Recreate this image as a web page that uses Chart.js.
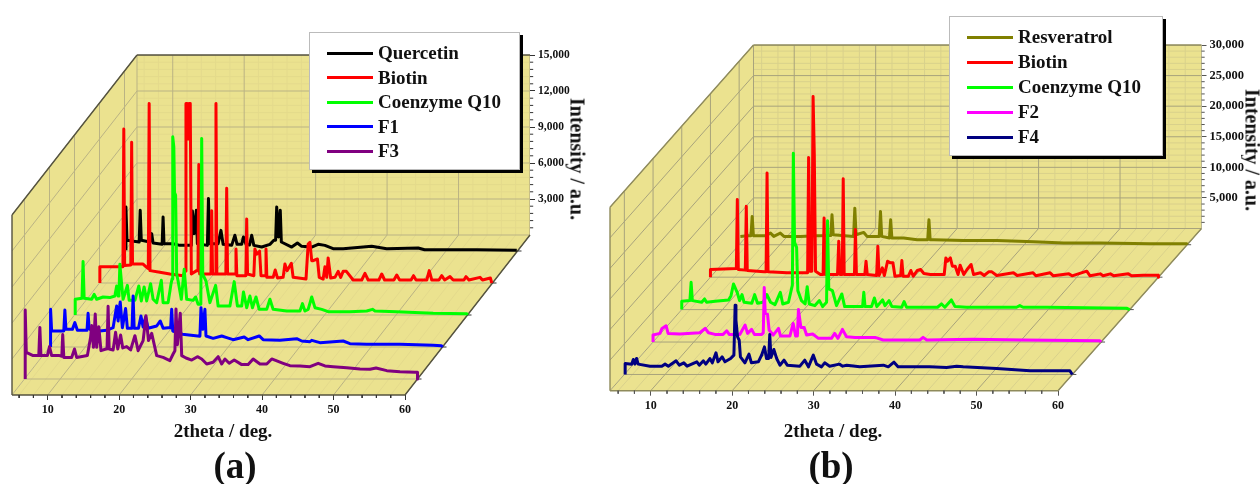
<!DOCTYPE html>
<html>
<head>
<meta charset="utf-8">
<title>XRD patterns</title>
<script src="https://cdn.jsdelivr.net/npm/chart.js@4/dist/chart.umd.min.js"></script>
<style>
  html,body { margin:0; padding:0; background:#fff; }
  #page { position:relative; width:1260px; height:484px; overflow:hidden; font-family:"Liberation Serif",serif; font-weight:bold; color:#111; filter:blur(0.45px); }
  canvas { position:absolute; top:0; }
  .lbl { position:absolute; white-space:nowrap; transform:translate(-50%,-50%); }
  .legend { position:absolute; background:#fff; border:1px solid #bbb; box-sizing:border-box; box-shadow:3px 3px 0 #000; font-size:19px; }
  .legend div { position:absolute; white-space:nowrap; line-height:20px; }
  .legend i { position:absolute; height:3px; }
</style>
</head>
<body>
<div id="page">
  <canvas id="chartA" width="600" height="484" style="left:0"></canvas>
  <canvas id="chartB" width="660" height="484" style="left:600px"></canvas>
</div>
<script>
// [2theta, intensity], panel (a)
const quercetinA = [[5.2,55],[5.2,3670],[5.35,890],[7.05,750],[7.2,3390],[7.35,890],[8.55,750],[8.8,1450],[9,670],[10.27,555],[10.4,2835],[10.53,610],[11.8,610],[12.75,470],[14.35,470],[14.5,3340],[14.75,1450],[15.05,3390],[15.2,610],[16.6,470],[16.75,4365],[16.9,610],[18.1,610],[18.5,1720],[18.8,555],[20,470],[20.45,1310],[20.75,555],[21.4,555],[21.65,1170],[22,555],[22.5,500],[22.8,1310],[23.1,470],[24.2,330],[25.35,555],[25.9,890],[26.15,890],[26.3,3670],[26.55,1170],[26.8,3390],[26.95,750],[28.4,330],[29.2,670],[29.8,390],[31.2,330],[32.1,555],[33.05,470],[34.2,195],[35.6,195],[39.6,390],[41.7,195],[46.1,250],[47,110],[54.3,110],[59.9,55]];
const biotinA = [[5.05,0],[5.05,1360],[7.85,1360],[8.28,1360],[8.4,12840],[8.52,1450],[9.38,1500],[9.5,11730],[9.62,1580],[11.1,1580],[11.6,1310],[11.83,1200],[11.95,14960],[12.07,1030],[13.45,890],[14.85,750],[16.7,610],[17,1000],[17.1,14960],[17.25,14960],[17.4,12000],[17.55,14950],[17.7,14950],[17.85,750],[18.6,1030],[18.78,1030],[18.9,9870],[19.02,750],[20.2,750],[20.6,750],[20.7,6030],[20.82,750],[21.18,750],[21.3,14960],[21.42,750],[22.68,750],[22.8,7900],[22.92,750],[23.98,750],[24.1,2835],[24.22,610],[25.48,610],[25.6,5340],[25.72,750],[26.6,610],[26.75,2835],[27,2400],[27.4,2650],[27.6,610],[28.18,610],[28.3,2835],[28.42,470],[29.3,470],[29.6,1080],[29.9,420],[30.7,470],[30.95,1580],[31.25,1030],[31.85,1640],[32.1,470],[33.9,330],[34.2,3250],[34.45,3390],[34.7,1860],[34.9,1860],[35.5,2000],[35.75,470],[36.3,330],[36.55,1360],[36.8,470],[37,2085],[37.35,420],[37.95,470],[38.4,970],[38.75,470],[39.1,970],[39.55,970],[40.5,250],[41.7,250],[42.15,810],[42.6,250],[44.1,250],[44.5,750],[44.9,250],[46.2,250],[46.6,670],[47,250],[48.6,250],[48.95,610],[49.3,250],[50.8,250],[51.15,1030],[51.5,250],[52.5,250],[52.9,610],[53.3,250],[54.05,530],[54.5,250],[56,250],[56.3,530],[56.7,250],[58.25,470],[58.6,250],[59.7,420],[59.9,0]];
const coenzymeA = [[5.1,0],[5.1,1310],[6.05,1390],[6.2,4450],[6.35,1390],[7.4,1310],[7.75,1720],[8.1,1310],[9,1500],[9.95,1450],[10.65,1580],[10.9,2420],[11.1,1580],[11.22,1700],[11.35,4230],[11.6,2560],[11.8,1310],[12.4,2470],[12.65,1220],[13.45,1220],[14,2420],[14.35,1170],[14.75,2340],[15.1,1170],[15.65,2610],[16,1310],[16.5,1030],[17.15,2890],[17.4,1030],[18.1,1030],[18.5,2560],[18.65,3000],[18.75,14845],[18.9,14000],[19,10200],[19.15,10000],[19.3,3400],[19.5,2835],[19.95,1310],[20.35,3810],[20.7,1310],[21.6,1220],[21.95,1500],[22.3,890],[22.68,890],[22.8,14700],[22.95,3390],[23.4,2835],[23.95,1030],[24.75,2470],[25.1,750],[26.75,750],[27.35,2780],[27.8,750],[28.4,750],[28.65,1920],[29.1,610],[29.55,1580],[29.9,610],[30.4,1500],[30.85,470],[31.9,470],[32.35,1310],[32.8,470],[34.7,330],[36.55,330],[36.9,945],[37.25,330],[37.7,470],[38.2,1500],[38.65,610],[39.6,470],[40.5,280],[43.55,280],[45.9,330],[46.7,470],[47.05,330],[50.05,280],[55.2,140],[59.9,110],[60,0]];
const f1A = [[5.15,0],[5.15,3140],[5.3,1330],[7,1330],[7.15,3085],[7.3,1470],[8.2,1470],[8.55,2030],[8.9,1390],[10.25,1390],[10.4,2810],[10.55,1560],[11,1280],[13,1390],[13.9,1610],[14.4,3420],[14.6,2170],[14.9,3750],[15.2,1610],[15.65,3200],[15.9,1560],[16.55,1560],[16.7,4250],[16.85,1560],[17.45,1560],[17.8,2585],[18.1,1670],[18.45,2500],[18.8,1560],[20,1750],[20.5,2170],[20.9,1560],[21.6,1610],[21.95,1600],[22.1,3140],[22.25,1330],[23.6,1060],[26.05,900],[26.2,3280],[26.45,1470],[26.75,3140],[26.9,920],[27.9,720],[29.1,920],[29.8,780],[30.7,610],[32.25,830],[32.8,610],[34.35,920],[34.9,610],[37.25,555],[39.6,695],[40.3,500],[41.45,445],[41.7,555],[42.85,360],[46.1,500],[47.05,280],[49.4,220],[54.05,220],[58.7,140],[59.85,110],[60,0]];
const f3A = [[5.1,0],[5.1,5750],[5.25,2220],[6.2,1950],[7,1950],[7.15,4300],[7.3,1950],[8.2,1950],[8.5,2700],[8.8,1950],[9.9,1950],[10.22,1900],[10.35,3700],[10.5,1800],[11.6,1800],[12,2500],[12.3,1800],[13.8,1950],[14.25,3470],[14.4,4450],[14.65,2640],[14.9,5420],[15.1,2640],[15.4,4360],[15.7,2360],[16.4,2500],[16.55,2500],[16.7,6060],[16.85,2500],[17.4,2420],[17.75,3890],[18.05,2500],[18.45,3670],[18.75,2590],[19.3,2700],[19.85,2420],[20.45,3610],[20.9,2360],[21.6,3200],[22,5280],[22.35,3200],[22.8,3810],[23.5,1950],[24.4,1800],[25.35,1530],[25.8,2085],[26.05,2360],[26.2,5840],[26.4,2860],[26.8,5480],[27,1950],[27.6,1750],[28.4,1580],[29.2,1860],[29.8,1670],[30.5,1250],[31.4,1390],[32.1,1860],[32.6,1250],[33.05,1670],[33.65,1310],[34.35,1580],[35.4,1200],[36.3,1200],[37,1670],[37.95,1250],[38.9,1250],[39.6,1670],[41.2,1310],[42.15,1110],[43.55,1085],[44.95,1030],[46.1,1310],[47.05,1085],[48.2,1030],[50.1,945],[51.95,835],[53.35,805],[54.2,915],[55.7,695],[57.55,610],[59.65,555],[60,555],[60,0]];

// panel (b)
const resveratrolB = [[5.15,1360],[6,1470],[6.45,1470],[6.6,4620],[6.75,1470],[8.2,1470],[8.85,1900],[9.25,1360],[10.05,1900],[10.5,1360],[12.5,1360],[14.55,1470],[16.25,1500],[16.4,4900],[16.55,1630],[19.05,1360],[19.2,5980],[19.35,1630],[20.3,2010],[20.7,1360],[22.2,1360],[22.35,5440],[22.5,1360],[23.45,1090],[23.6,4080],[23.75,1090],[25.2,1090],[26.85,815],[28.15,815],[28.3,4080],[28.45,815],[28.9,815],[32.55,700],[36.65,700],[41.15,490],[44.85,270],[49.35,270],[55.45,160],[59.95,160],[60,0]];
const biotinB = [[5,0],[5,1250],[8.18,1410],[8.3,12680],[8.42,1250],[9.28,1150],[9.4,11590],[9.52,1090],[11.6,870],[11.83,870],[11.95,17030],[12.07,870],[14.4,710],[16.93,710],[17.05,19580],[17.2,980],[17.45,980],[17.6,29540],[17.75,20000],[17.9,980],[18.5,435],[18.83,435],[18.95,9680],[19.07,435],[20.6,435],[20.75,5880],[20.9,435],[21.18,435],[21.3,16100],[21.42,435],[22.68,435],[22.8,7780],[22.92,435],[23.95,435],[24.1,2610],[24.25,435],[25.4,270],[25.55,5060],[25.7,270],[26.1,1520],[26.35,270],[26.75,2610],[27.1,2340],[27.4,2340],[27.65,160],[28.35,270],[28.5,2720],[28.65,160],[29.3,160],[29.6,1090],[29.9,160],[30.4,1090],[30.8,1250],[31.2,600],[32,435],[33.7,435],[33.9,3150],[34.1,2600],[34.45,3150],[34.7,1800],[35.05,1800],[35.4,435],[35.65,1960],[36.1,435],[36.5,1250],[37,2070],[37.3,435],[38.15,710],[38.6,270],[39.15,870],[39.55,870],[40.15,270],[42.2,710],[42.65,270],[44.6,710],[44.95,220],[46.7,710],[47.1,220],[49,540],[49.4,220],[51.2,980],[51.6,220],[52.85,540],[53.2,220],[54.1,540],[54.5,220],[56.3,540],[56.7,220],[58.15,320],[59.95,320],[60,0]];
const coenzymeB = [[5,0],[5,1360],[6,1470],[6.15,4460],[6.3,1470],[7.45,1200],[7.8,1740],[8.05,1200],[9.1,1360],[10.75,1580],[11.05,2280],[11.35,4190],[11.8,2830],[12.1,1470],[12.4,2450],[12.65,1200],[13.6,1030],[13.95,2450],[14.3,1030],[15,1200],[15.45,2450],[15.9,1200],[16.45,820],[17.1,2830],[17.4,925],[18.1,1200],[18.58,4000],[18.7,25570],[18.85,11000],[19.1,10170],[19.25,3100],[19.7,1470],[20.15,925],[20.4,3750],[20.65,925],[21.35,650],[21.9,1470],[22.3,490],[22.78,1200],[22.9,14520],[23.05,3370],[23.5,3100],[24,650],[24.65,2560],[25,490],[27.2,490],[27.35,2830],[27.5,490],[28.3,490],[28.65,1900],[28.95,490],[29.65,1580],[29.95,650],[30.45,1470],[30.8,490],[32,380],[32.3,1300],[32.6,380],[36.4,380],[36.9,925],[37.3,380],[38.1,1580],[38.55,490],[39.95,380],[46.1,380],[46.5,650],[46.9,380],[49.8,380],[59.6,220],[60,0]];
const f2B = [[5,0],[5,1140],[5.85,1410],[6.1,2230],[6.6,2670],[6.85,1410],[8.3,1310],[10.75,1520],[11.4,2230],[11.8,1520],[12.6,1250],[13.6,1250],[14.05,1850],[14.35,1250],[15.65,1250],[16.3,2770],[16.6,1410],[17.1,2070],[17.45,1250],[18.35,1250],[18.53,1500],[18.65,8920],[18.77,4700],[19.05,4570],[19.25,1960],[19.75,1140],[20.4,2230],[20.65,980],[21.8,980],[22.2,3050],[22.5,980],[22.72,1000],[22.85,5330],[23.15,2390],[23.55,2390],[23.85,1140],[24.6,1310],[25.3,600],[26.9,600],[27.3,1410],[27.7,600],[28.25,2070],[28.75,870],[29.8,760],[32.25,760],[33.25,330],[37.75,330],[38.15,760],[38.6,330],[44.3,440],[50.45,330],[59.85,220],[60,0]];
const f4B = [[5.1,0],[5.1,1800],[5.9,1690],[6.1,2450],[6.3,1700],[6.5,2610],[6.7,1690],[8.15,1360],[9.6,1360],[10,1690],[10.4,1360],[11.35,2230],[11.75,1520],[12.3,1900],[12.7,1360],[13.9,2070],[14.2,1520],[14.7,2230],[15,1690],[15.5,2610],[15.8,1900],[16.25,3540],[16.5,2070],[17,2880],[17.35,2070],[18.05,2610],[18.45,3160],[18.6,11300],[18.7,8870],[18.9,6150],[19.1,5600],[19.25,2880],[19.8,1900],[20.3,3320],[20.6,1900],[21.45,2070],[21.85,3160],[22.2,4510],[22.45,2610],[22.72,2610],[22.85,6530],[23,2770],[23.35,4080],[23.7,2610],[24.1,1520],[24.6,2340],[25,1520],[26.55,1360],[27.15,2340],[27.6,1250],[28.2,3160],[28.6,1690],[29.2,1250],[29.6,1900],[30.2,1360],[31.4,1690],[31.8,1360],[32.3,1520],[33.9,1250],[36.8,1520],[37.4,1250],[38.1,2010],[38.6,1250],[42.5,1250],[44.55,1140],[45.8,1360],[46.6,1250],[50.7,980],[54.8,600],[59.7,600],[60,0]];

const namesA  = ['Quercetin','Biotin','Coenzyme Q10','F1','F3'];
const namesB  = ['Resveratrol','Biotin','Coenzyme Q10','F2','F4'];
const colorsA = ['#000000','#ff0000','#00ff00','#0000ff','#800080'];
const colorsB = ['#808000','#ff0000','#00ff00','#ff00ff','#000080'];
const seriesA = [quercetinA,biotinA,coenzymeA,f1A,f3A];
const seriesB = [resveratrolB,biotinB,coenzymeB,f2B,f4B];

const thetaTicks = [10,20,30,40,50,60];
const intensityTicksA = [3000,6000,9000,12000,15000];
const intensityTicksB = [5000,10000,15000,20000,25000,30000];
const depthLines = [0.9,0.7,0.5,0.3,0.1];   // back to front

const WALL = '#ebe28f';

function range(a,b,step) {
  const out = [];
  for (let v=a; v<=b+1e-6; v+=step) out.push(v);
  return out;
}

function makePanel(cfg) {
  const { canvas, area, names, colors, series, yTicks, yMax, yMinor, gridColor, minorColor, edgeColor, tickColor, tickFont } = cfg;
  const pxDeg = (area.front - area.left) / 55;             // pixels per degree on the front edge
  const shiftX = (area.right - area.front) / pxDeg;        // depth offset as degrees
  const pxInt = cfg.wallPx / yMax;                         // pixels per count
  const shiftY = (area.bottom - area.top - cfg.wallPx) / pxInt;  // depth offset as counts
  const P = (t,i,d) => ({ x:t + d*shiftX, y:i + d*shiftY });
  const gap = { x:NaN, y:NaN };

  const segs = list => list.flatMap(([a,b]) => [a,b,gap]);
  const line = (data,color,width,order,extra) => Object.assign({
    data, borderColor:color, borderWidth:width, showLine:true, pointRadius:0, order, borderJoinStyle:'round'
  }, extra || {});
  const face = (pts,order) => ({ data:pts, showLine:true, pointRadius:0, borderWidth:0, backgroundColor:WALL, fill:'shape', order });

  const minorT = range(5,60,2).map(v => v+1).filter(v => v<60 && v%10!==0);
  const ds = [];
  // wall faces
  ds.push(face([P(5,0,1),P(60,0,1),P(60,yMax,1),P(5,yMax,1)],100));
  ds.push(face([P(5,0,0),P(5,0,1),P(5,yMax,1),P(5,yMax,0)],100));
  ds.push(face([P(5,0,0),P(60,0,0),P(60,0,1),P(5,0,1)],100));
  // minor grid
  ds.push(line(segs([
    ...minorT.map(t => [P(t,0,1),P(t,yMax,1)]),
    ...minorT.map(t => [P(t,0,0),P(t,0,1)]),
    ...yMinor.map(v => [P(5,v,1),P(60,v,1)])
  ]),minorColor,1,90));
  // major grid
  ds.push(line(segs([
    ...thetaTicks.map(t => [P(t,0,1),P(t,yMax,1)]),
    ...thetaTicks.map(t => [P(t,0,0),P(t,0,1)]),
    ...yTicks.map(v => [P(5,v,1),P(60,v,1)]),
    ...yTicks.map(v => [P(5,v,0),P(5,v,1)]),
    ...depthLines.map(d => [P(5,0,d),P(60,0,d)]),
    ...depthLines.map(d => [P(5,0,d),P(5,yMax,d)]),
    [P(5,0,1),P(5,yMax,1)],[P(60,0,1),P(60,yMax,1)],[P(5,0,1),P(60,0,1)],[P(5,0,0),P(5,0,1)]
  ]),gridColor,1,80));
  // box edges
  ds.push(line(segs([
    [P(5,0,0),P(60,0,0)],[P(60,0,0),P(60,0,1)],
    [P(5,yMax,1),P(60,yMax,1)],[P(5,yMax,0),P(5,yMax,1)],[P(5,0,0),P(5,yMax,0)]
  ]),edgeColor,1.4,70,{clip:false}));
  // little tick marks: theta minors, intensity minors, depth
  const tx = 4/pxDeg, ti = 3/pxInt;
  ds.push(line(segs([
    ...range(6,58,2).filter(v => v%10!==0).map(t => [P(t,0,0),P(t,-ti,0)]),
    ...yMinor.map(v => [P(60,v,1),P(60+tx*0.8,v,1)]),
    ...depthLines.map(d => [P(60,0,d),P(60+tx,0,d)])
  ]),tickColor,1,60,{clip:false}));

  // spectra, the back one drawn first
  series.forEach((s,i) => {
    const d = depthLines[i];
    ds.push(line(s.map(([t,v]) => P(t,v,d)),colors[i],3,10-i,{label:names[i]}));
  });

  new Chart(document.getElementById(canvas), {
    type:'scatter',
    data:{ datasets:ds },
    options:{
      responsive:false,
      animation:false,
      events:[],
      layout:{ padding:{
        left:area.left,
        top:area.top,
        right:cfg.width - area.right - 50,
        bottom:484 - area.bottom - 24
      }},
      plugins:{ legend:{display:false}, tooltip:{enabled:false} },
      scales:{
        x:{
          type:'linear', min:5, max:60+shiftX,
          afterBuildTicks:s => { s.ticks = thetaTicks.map(v => ({value:v})); },
          afterFit:s => { s.height = 24; },
          grid:{ drawOnChartArea:false, drawTicks:true, tickLength:5, tickColor, tickWidth:1 },
          border:{ display:false },
          ticks:{ autoSkip:false, maxRotation:0, padding:3, color:'#111', font:{family:'Liberation Serif',weight:'bold',size:12}, callback:v => v }
        },
        y:{
          type:'linear', position:'right', min:0, max:yMax+shiftY,
          afterBuildTicks:s => { s.ticks = yTicks.map(v => ({value:v+shiftY})); },
          afterFit:s => { s.width = 50; },
          grid:{ drawOnChartArea:false, drawTicks:true, tickLength:5, tickColor, tickWidth:1 },
          border:{ display:false },
          ticks:{ autoSkip:false, padding:3, color:'#111', font:{family:'Liberation Serif',weight:'bold',size:tickFont}, callback:v => Math.round(v-shiftY).toLocaleString('en-US') }
        }
      }
    }
  });
}

makePanel({
  canvas:'chartA', width:600,
  area:{left:12, front:405, right:530, top:55, bottom:395},
  wallPx:180, yMax:15000, yTicks:intensityTicksA, yMinor:range(600,14400,600).filter(v => v%3000!==0),
  names:namesA, colors:colorsA, series:seriesA,
  gridColor:'#bab384', minorColor:'#e4da8c', edgeColor:'#55533f', tickColor:'#333', tickFont:11.5
});
makePanel({
  canvas:'chartB', width:660,
  area:{left:10, front:458, right:601.5, top:45, bottom:390.7},
  wallPx:183.5, yMax:30000, yTicks:intensityTicksB, yMinor:range(1000,29000,1000).filter(v => v%5000!==0),
  names:namesB, colors:colorsB, series:seriesB,
  gridColor:'#a8a37c', minorColor:'#d9d18c', edgeColor:'#8f8b5c', tickColor:'#555', tickFont:12.5
});

// legends and captions
const page = document.getElementById('page');
function addLegend(box,names,colors) {
  const el = document.createElement('div');
  el.className = 'legend';
  el.style.cssText = `left:${box.x}px;top:${box.y}px;width:${box.w}px;height:${box.h}px`;
  names.forEach((n,i) => {
    const y = box.row0 + i*box.rowH;
    const s = document.createElement('i');
    s.style.cssText = `left:${box.sx}px;width:46px;top:${y-1.5}px;background:${colors[i]}`;
    const t = document.createElement('div');
    t.textContent = n;
    t.style.cssText = `left:${box.tx}px;top:${y-10}px`;
    el.append(s,t);
  });
  page.appendChild(el);
}
addLegend({x:309,y:32,w:211,h:138,row0:20,rowH:24.6,sx:17,tx:68},namesA,colorsA);
addLegend({x:949,y:16,w:214,h:140,row0:20,rowH:25,sx:17,tx:68},namesB,colorsB);

function addLabel(text,x,y,size,rot) {
  const el = document.createElement('div');
  el.className = 'lbl';
  el.textContent = text;
  el.style.cssText = `left:${x}px;top:${y}px;font-size:${size}px;` + (rot ? 'transform:translate(-50%,-50%) rotate(90deg)' : '');
  page.appendChild(el);
}
addLabel('2theta / deg.',223,431,19);
addLabel('2theta / deg.',833,431,19);
addLabel('Intensity / a.u.',577,159,20,true);
addLabel('Intensity / a.u.',1252,150,20,true);
addLabel('(a)',235,465,37);
addLabel('(b)',831,465,37);
</script>
</body>
</html>
